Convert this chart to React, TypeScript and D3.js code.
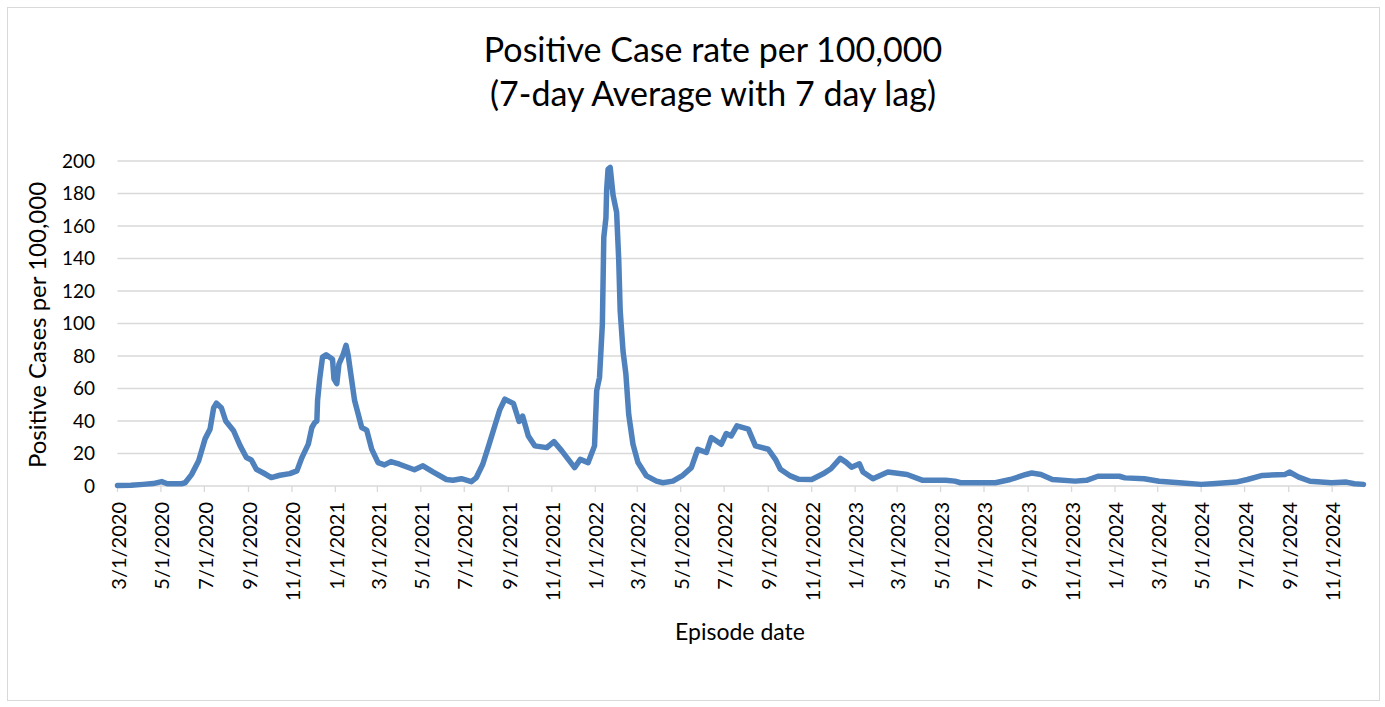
import React from "react";
import * as d3 from "d3";

const dates: string[] = [
  "2020-03-01","2020-03-20","2020-04-06","2020-04-20","2020-05-02","2020-05-10","2020-05-30","2020-06-04","2020-06-13","2020-06-23",
  "2020-07-02","2020-07-09","2020-07-14","2020-07-18","2020-07-25","2020-07-31","2020-08-11","2020-08-20","2020-08-29","2020-09-05",
  "2020-09-12","2020-09-22","2020-10-03","2020-10-15","2020-10-29","2020-11-08","2020-11-15","2020-11-24","2020-11-29","2020-12-03",
  "2020-12-06","2020-12-07","2020-12-10","2020-12-14","2020-12-19","2020-12-28","2020-12-30","2021-01-03","2021-01-06","2021-01-12",
  "2021-01-16","2021-01-19","2021-01-22","2021-01-28","2021-02-02","2021-02-07","2021-02-14","2021-02-21","2021-03-02","2021-03-11",
  "2021-03-20","2021-04-01","2021-04-22","2021-05-04","2021-05-18","2021-06-06","2021-06-15","2021-06-27","2021-07-11","2021-07-18",
  "2021-07-27","2021-08-05","2021-08-15","2021-08-20","2021-08-27","2021-09-08","2021-09-13","2021-09-16","2021-09-21","2021-09-29",
  "2021-10-08","2021-10-25","2021-11-04","2021-11-15","2021-12-03","2021-12-11","2021-12-22","2021-12-31","2022-01-03","2022-01-07",
  "2022-01-11","2022-01-13","2022-01-16","2022-01-17","2022-01-19","2022-01-22","2022-01-26","2022-01-31","2022-02-03","2022-02-05",
  "2022-02-09","2022-02-13","2022-02-17","2022-02-23","2022-03-02","2022-03-14","2022-03-28","2022-04-06","2022-04-20","2022-05-04",
  "2022-05-16","2022-05-25","2022-06-06","2022-06-13","2022-06-27","2022-07-04","2022-07-11","2022-07-19","2022-08-04","2022-08-14",
  "2022-09-01","2022-09-11","2022-09-18","2022-10-02","2022-10-14","2022-11-01","2022-11-17","2022-11-28","2022-12-11","2022-12-19",
  "2022-12-27","2023-01-07","2023-01-12","2023-01-26","2023-02-16","2023-03-15","2023-04-06","2023-05-08","2023-05-21","2023-05-29",
  "2023-07-17","2023-08-07","2023-08-29","2023-09-06","2023-09-19","2023-10-05","2023-11-06","2023-11-22","2023-12-08","2024-01-07",
  "2024-01-15","2024-02-11","2024-03-03","2024-04-05","2024-05-01","2024-05-17","2024-06-19","2024-07-05","2024-07-26","2024-08-27",
  "2024-09-02","2024-09-15","2024-10-01","2024-10-31","2024-11-21","2024-12-02","2024-12-15"
];

const rates: number[] = [
  0.3,0.5,1,1.5,2.7,1.4,1.4,2,7,15.5,
  29,35,48,51,48,40,34,25,17.5,16,
  10.3,8,5.2,6.6,7.6,9.3,17.5,25.8,36,39,
  40,52.6,66,79.4,80.8,78,66,63,75,81,
  86.6,80.4,71,52.6,44.3,36,34.4,22.7,14.4,13,
  15,13.4,10,12.4,8.7,4,3.5,4.5,2.7,5.2,
  13.4,25.8,40,47,53.4,50.8,44,39.7,43,30.8,
  24.7,23.6,27.3,21.6,11.3,16.4,14.4,24.7,58.6,66.8,
  99.7,153,165,182,195,196,179,168.5,138.7,108,
  83,69,44,25.7,14.4,6.2,3,2,3,6.6,
  11.3,22.6,20.6,29.8,25.7,32.3,30.8,37,35,24.7,
  22.6,16.4,10.3,6.2,4.1,4,7.5,10.6,17,14.7,
  11.6,13.7,8.6,4.5,8.6,7.1,3.5,3.5,3,2,
  2,4,7.1,8,7.1,4,3,3.5,6,6,
  5,4.5,2.9,1.8,1,1.4,2.4,4,6.5,7.1,
  8.6,5.5,2.9,2,2.4,1.4,1
];

const yTicks: number[] = [0, 20, 40, 60, 80, 100, 120, 140, 160, 180, 200];
const xTickDates: string[] = [
  "2020-03-01","2020-05-01","2020-07-01","2020-09-01","2020-11-01",
  "2021-01-01","2021-03-01","2021-05-01","2021-07-01","2021-09-01","2021-11-01",
  "2022-01-01","2022-03-01","2022-05-01","2022-07-01","2022-09-01","2022-11-01",
  "2023-01-01","2023-03-01","2023-05-01","2023-07-01","2023-09-01","2023-11-01",
  "2024-01-01","2024-03-01","2024-05-01","2024-07-01","2024-09-01","2024-11-01"
];

const titleLines = ["Positive Case rate per 100,000", "(7-day Average with 7 day lag)"];
const yTitle = "Positive Cases per 100,000";
const xTitle = "Episode date";

const W = 1385;
const H = 707;
const FONT = "Lato, 'Open Sans', 'Noto Sans', sans-serif";

const parse = d3.utcParse("%Y-%m-%d");
const fmt = (d: Date) => `${d.getUTCMonth() + 1}/${d.getUTCDate()}/${d.getUTCFullYear()}`;

export default function App() {
  const x = d3
    .scaleUtc()
    .domain([parse("2020-03-01") as Date, parse("2024-12-15") as Date])
    .range([117.5, 1363.5]);
  const y = d3.scaleLinear().domain([0, 200]).range([486, 161]);

  const pts = dates.map((d, i) => ({ d: parse(d) as Date, v: rates[i] }));
  const line = d3
    .line<{ d: Date; v: number }>()
    .x((p) => x(p.d))
    .y((p) => y(p.v));

  return (
    <svg
      width={W}
      height={H}
      style={{ position: "absolute", left: 0, top: 0, background: "#fff" }}
      fontFamily={FONT}
    >
      <rect x={7.5} y={7.5} width={1372} height={693} fill="#fff" stroke="#D9D9D9" strokeWidth={1} />
      {titleLines.map((t, i) => (
        <text key={i} x={713} y={62 + i * 44} textAnchor="middle" fontSize={34} fill="#000">
          {t}
        </text>
      ))}
      {yTicks.map((t) => (
        <g key={t}>
          {t > 0 && (
            <line x1={117.5} x2={1363.5} y1={y(t)} y2={y(t)} stroke="#D9D9D9" strokeWidth={1.3} />
          )}
          <text x={95} y={y(t)} dy="0.36em" textAnchor="end" fontSize={19} fill="#000">
            {t}
          </text>
        </g>
      ))}
      <line x1={117.5} x2={1363.5} y1={y(0)} y2={y(0)} stroke="#D9D9D9" strokeWidth={1.3} />
      {xTickDates.map((s) => {
        const d = parse(s) as Date;
        const px = x(d);
        return (
          <g key={s}>
            <line x1={px} x2={px} y1={y(0)} y2={y(0) + 6} stroke="#D9D9D9" strokeWidth={1.3} />
            <text
              transform={`translate(${px + 1},${y(0) + 16}) rotate(-90)`}
              textAnchor="end"
              dy="0.36em"
              fontSize={20}
              fill="#000"
            >
              {fmt(d)}
            </text>
          </g>
        );
      })}
      <path
        d={line(pts) || ""}
        fill="none"
        stroke="#4F81BD"
        strokeWidth={5.5}
        strokeLinejoin="round"
        strokeLinecap="round"
      />
      <text
        transform={`translate(46,325) rotate(-90)`}
        textAnchor="middle"
        fontSize={24}
        fill="#000"
      >
        {yTitle}
      </text>
      <text x={740} y={640} textAnchor="middle" fontSize={23} fill="#000">
        {xTitle}
      </text>
    </svg>
  );
}
